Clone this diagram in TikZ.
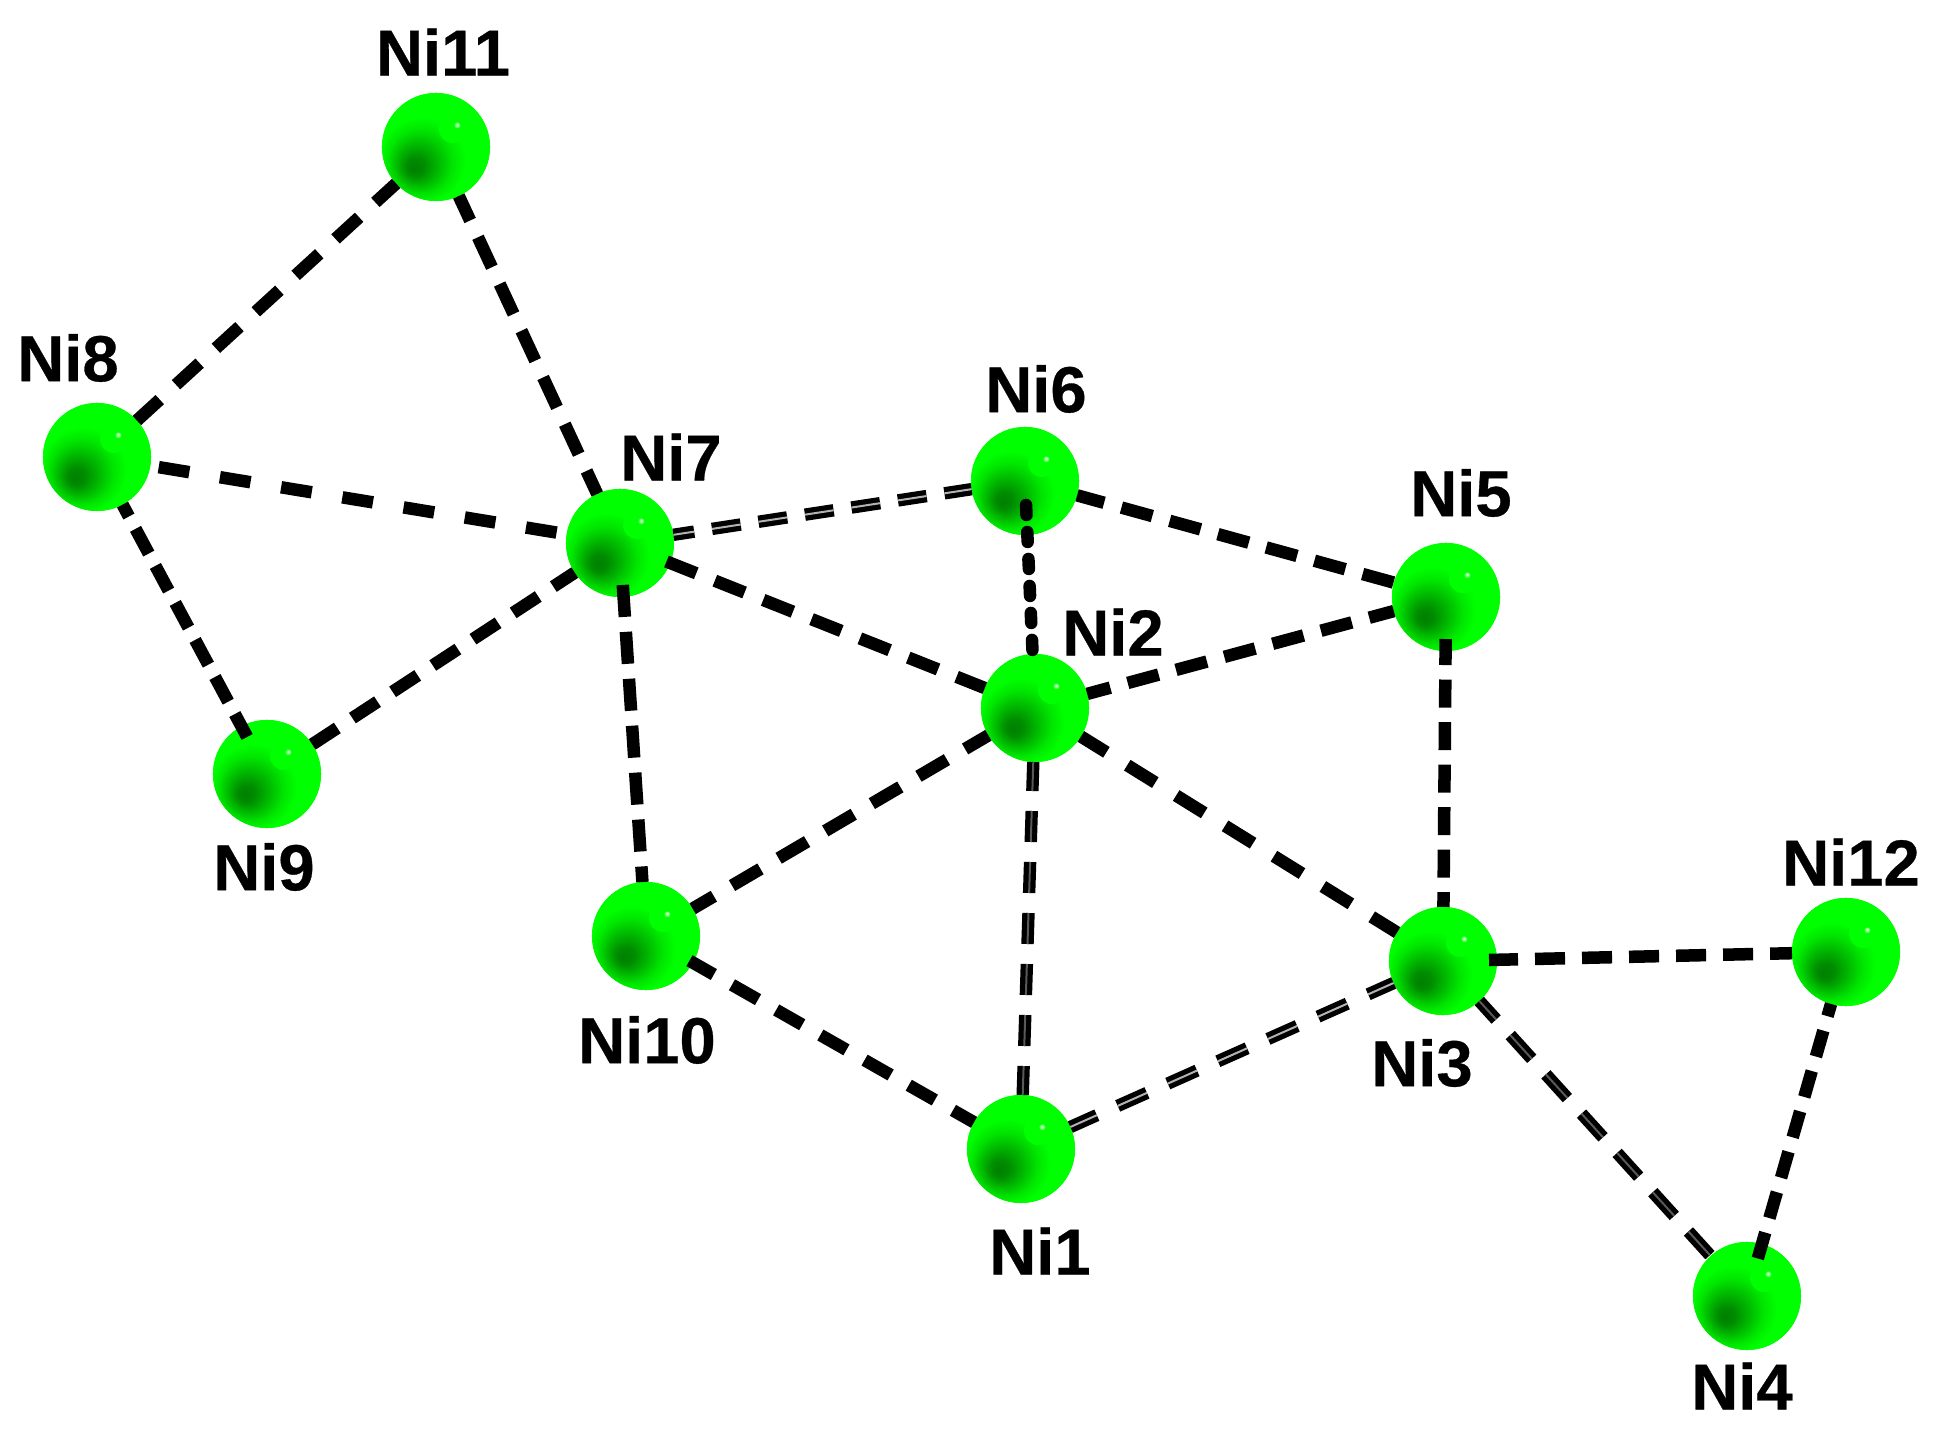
\documentclass[tikz,border=0pt]{standalone}
\usepackage{fontspec}
\usepackage{xcolor}
\usepackage{tikz}
\usetikzlibrary{positioning, arrows.meta, calc, shapes.geometric}
\setmainfont{Liberation Sans}[BoldFeatures={FakeBold=0.5}]
\pgfdeclareradialshading{niblob}{\pgfpoint{-10.5bp}{-10bp}}{
    rgb(0bp)=(0,0.50,0);
    rgb(4bp)=(0,0.55,0);
    rgb(10bp)=(0,0.74,0);
    rgb(15bp)=(0,0.90,0);
    rgb(20bp)=(0,1,0);
    rgb(50bp)=(0,1,0)
}
\pgfdeclareradialshading{nigloss}{\pgfpoint{7.9bp}{8.3bp}}{
    rgb(0bp)=(0.90,1,0.90);
    rgb(2.5bp)=(0.60,1,0.60);
    rgb(6bp)=(0,1,0);
    rgb(50bp)=(0,1,0)
}
\tikzset{
    ball/.style={circle, minimum size=1.08cm, inner sep=0pt, outer sep=0pt, fill=green,
        path picture={
            \shade[shading=niblob] (0,0) circle [radius=0.54cm];
            \shade[shading=nigloss] (17,-18) circle [radius=0.14cm];}},
    nilabel/.style={inner sep=0pt, font=\fontsize{18.5}{20}\selectfont\bfseries},
    bond/.style n args={3}{draw=black, line width=0.125cm, dash pattern=on #1cm off #2cm, dash phase=#3cm},
    dbond/.style n args={3}{draw=black, line width=0.052cm, double=gray!60, double distance=0.02cm, dash pattern=on #1cm off #2cm, dash phase=#3cm}
}
\begin{document}
\begin{tikzpicture}[x=0.01cm, y=-0.01cm]
    \useasboundingbox (0,0) rectangle (1941,1437);
    \node[ball](ni1) at (1021,1149) {};
    \node[ball](ni2) at (1035,708) {};
    \node[ball](ni3) at (1443,961) {};
    \node[ball](ni4) at (1747,1296) {};
    \node[ball](ni5) at (1446,597) {};
    \node[ball](ni6) at (1025,481) {};
    \node[ball](ni7) at (620,543) {};
    \node[ball](ni8) at (97,457) {};
    \node[ball](ni9) at (267,774) {};
    \node[ball](ni10) at (646,936) {};
    \node[ball](ni11) at (436,147) {};
    \node[ball](ni12) at (1846,952) {};
    \node[nilabel](label1) at (1040,1251) {Ni1};
    \node[nilabel](label2) at (1113,632) {Ni2};
    \node[nilabel](label3) at (1422,1063) {Ni3};
    \node[nilabel](label4) at (1742,1386) {Ni4};
    \node[nilabel](label5) at (1461,493) {Ni5};
    \node[nilabel](label6) at (1036,389) {Ni6};
    \node[nilabel](label7) at (671,457) {Ni7};
    \node[nilabel](label8) at (68,358) {Ni8};
    \node[nilabel](label9) at (264,867) {Ni9};
    \node[nilabel](label10) at (647,1040) {Ni10};
    \node[nilabel](label11) at (443,52) {Ni11};
    \node[nilabel](label12) at (1851,862) {Ni12};
    \draw[bond={0.32}{0.22}{0.01}] (ni8) -- (ni11);
    \draw[bond={0.33}{0.185}{0.06}] (ni11) -- (ni7);
    \draw[bond={0.31}{0.31}{0.535}] (ni8) -- (ni7);
    \draw[bond={0.28}{0.14}{0.02}, shorten <=-0.12cm] (ni9) -- (ni8);
    \draw[bond={0.30}{0.18}{0}] (ni9) -- (ni7);
    \draw[bond={0.32}{0.15}{0}, shorten <=-0.12cm] (ni7) -- (ni10);
    \draw[bond={0.32}{0.20}{0}, shorten <=-0.04cm] (ni7) -- (ni2);
    \draw[dbond={0.29}{0.18}{0.08}] (ni7) -- (ni6);
    \draw[bond={0.10}{0.17}{0}, line cap=round, shorten <=-0.30cm] (ni6) -- (ni2);
    \draw[bond={0.32}{0.18}{0.04}] (ni6) -- (ni5);
    \draw[bond={0.32}{0.18}{0.08}] (ni2) -- (ni5);
    \draw[bond={0.28}{0.145}{0.02}, shorten <=-0.12cm] (ni5) -- (ni3);
    \draw[bond={0.33}{0.21}{0.06}] (ni2) -- (ni10);
    \draw[dbond={0.31}{0.20}{0.02}, double=black!65] (ni2) -- (ni1);
    \draw[bond={0.33}{0.245}{0.03}] (ni2) -- (ni3);
    \draw[bond={0.30}{0.208}{0.02}, shorten <=-0.04cm] (ni10) -- (ni1);
    \draw[dbond={0.32}{0.228}{0.03}] (ni1) -- (ni3);
    \draw[bond={0.30}{0.17}{0.01}, shorten <=-0.08cm] (ni3) -- (ni12);
    \draw[dbond={0.32}{0.21}{0.07}, double=black!65] (ni3) -- (ni4);
    \draw[bond={0.27}{0.15}{0}, shorten <=-0.15cm] (ni4) -- (ni12);
\end{tikzpicture}
\end{document}
